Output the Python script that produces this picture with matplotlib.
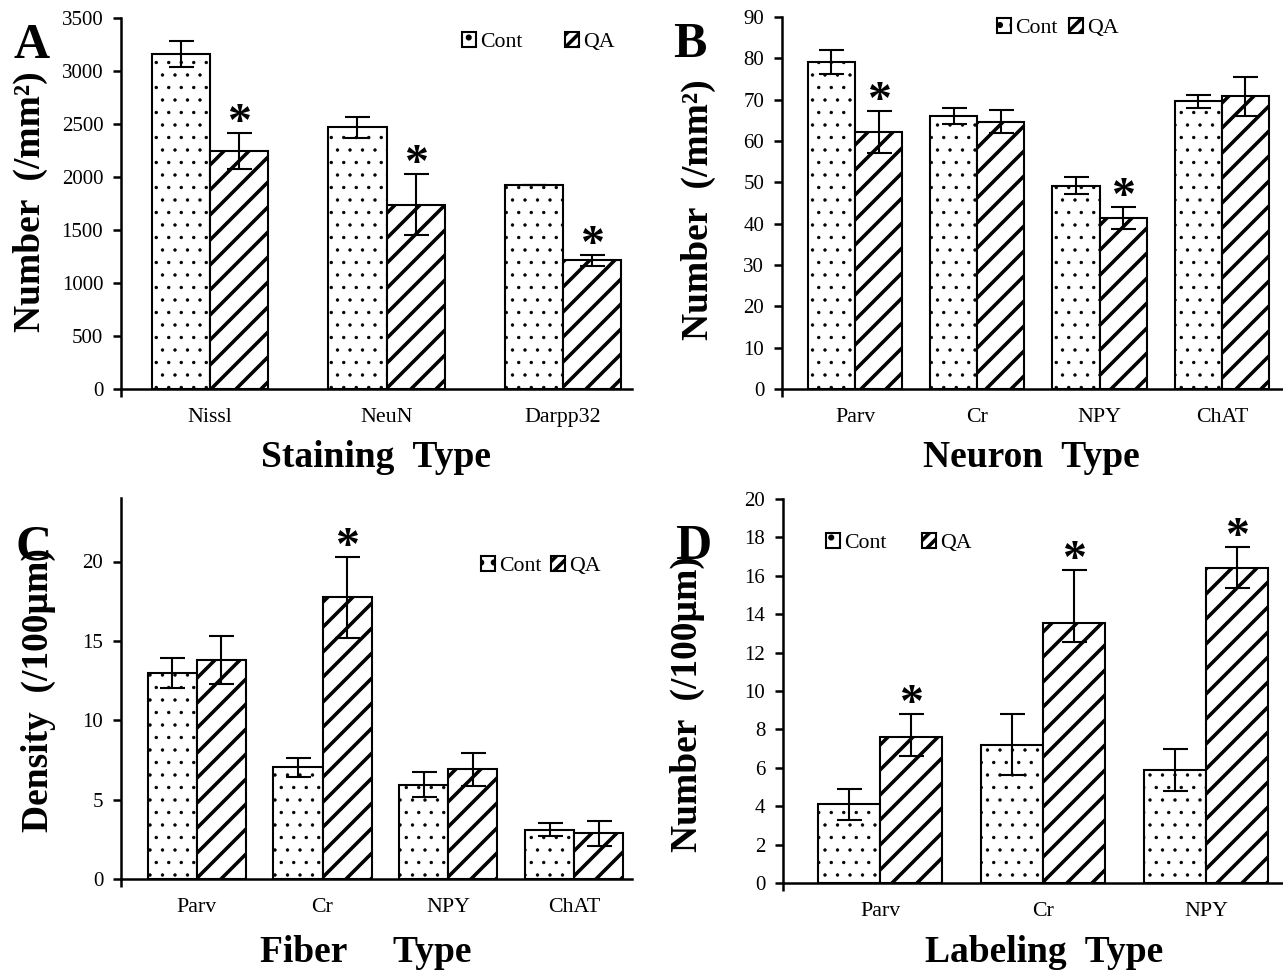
import matplotlib as mpl
import matplotlib.pyplot as plt
from matplotlib.patches import Patch
import numpy as np

DPI = 150
W, H = 1283, 973

# values
a_cats = ["Nissl", "NeuN", "Darpp32"]
a_cont = [3160, 2468, 1927]
a_cont_err = [125, 100, 0]
a_qa = [2248, 1739, 1213]
a_qa_err = [170, 290, 50]
a_sig = [True, True, True]

b_cats = ["Parv", "Cr", "NPY", "ChAT"]
b_cont = [79.1, 66.1, 49.2, 69.6]
b_cont_err = [2.8, 1.9, 2.0, 1.5]
b_qa = [62.2, 64.7, 41.4, 70.8]
b_qa_err = [5.0, 2.8, 2.7, 4.7]
b_sig = [True, False, True, False]

c_cats = ["Parv", "Cr", "NPY", "ChAT"]
c_cont = [13.0, 7.05, 5.95, 3.1]
c_cont_err = [0.95, 0.6, 0.8, 0.42]
c_qa = [13.8, 17.75, 6.9, 2.87]
c_qa_err = [1.5, 2.55, 1.05, 0.8]
c_sig = [False, True, False, False]

d_cats = ["Parv", "Cr", "NPY"]
d_cont = [4.1, 7.2, 5.9]
d_cont_err = [0.8, 1.6, 1.1]
d_qa = [7.6, 13.55, 16.4]
d_qa_err_lo = [1.0, 1.0, 1.05]
d_qa_err_hi = [1.2, 2.75, 1.1]
d_sig = [True, True, True]

mpl.rcParams['font.family'] = 'serif'
mpl.rcParams['font.serif'] = ['Liberation Serif', 'DejaVu Serif']
mpl.rcParams['hatch.linewidth'] = 1.7
mpl.rcParams['axes.linewidth'] = 1.2

DOT_LW = 0.4

fig = plt.figure(figsize=(W / DPI, H / DPI), dpi=DPI)


def px(x, y):
    return x / W, 1 - y / H


def set_hlw(patches, lw):
    for p in patches:
        if hasattr(p, 'set_hatch_linewidth'):
            p.set_hatch_linewidth(lw)


def panel(box, cats, cont, cont_err, qa, qa_err, sig, ylim, ystep, width, xlim,
          leg_xy, colsp):
    l, t, r, b = box
    ax = fig.add_axes([l / W, 1 - b / H, (r - l) / W, (b - t) / H])
    x = np.arange(len(cats))
    bc = ax.bar(x - width / 2, cont, width, color='white', edgecolor='black',
                hatch='..', lw=1.0, zorder=2)
    set_hlw(bc, DOT_LW)
    ax.bar(x + width / 2, qa, width, color='white', edgecolor='black',
           hatch='//', lw=1.0, zorder=2)
    ax.errorbar(x - width / 2, cont, yerr=cont_err, fmt='none', ecolor='black',
                elinewidth=1.0, capsize=6, capthick=1.0, zorder=3)
    ax.errorbar(x + width / 2, qa, yerr=qa_err, fmt='none', ecolor='black',
                elinewidth=1.0, capsize=6, capthick=1.0, zorder=3)

    hi = np.array(qa_err)
    if hi.ndim == 2:
        hi = hi[1]
    for i in range(len(cats)):
        if sig[i]:
            ax.annotate('*', (x[i] + width / 2, qa[i] + hi[i]), xytext=(0, -1.5),
                        textcoords='offset points', ha='center', va='baseline',
                        fontsize=23, fontweight='bold')

    ax.set_xlim(xlim)
    ax.set_ylim(0, ylim)
    ax.set_yticks(np.arange(0, ylim + 0.001, ystep))
    ax.set_xticks(x)
    ax.set_xticklabels(cats, fontsize=10.5)
    ax.set_xticks([xlim[0]], minor=True)
    ax.tick_params(axis='x', which='major', length=0, pad=9)
    ax.tick_params(axis='x', which='minor', length=4, width=1.2, direction='out')
    ax.tick_params(axis='y', length=4, width=1.2, direction='out', pad=4.5,
                   labelsize=10)
    ax.spines['top'].set_visible(False)
    ax.spines['right'].set_visible(False)

    handles = [Patch(facecolor='white', edgecolor='black', hatch='..', lw=1.0),
               Patch(facecolor='white', edgecolor='black', hatch='////', lw=1.0)]
    set_hlw(handles[:1], DOT_LW)
    ax.legend(handles, ['Cont', 'QA'], loc='center left',
              bbox_to_anchor=px(*leg_xy), bbox_transform=fig.transFigure,
              ncol=2, frameon=False, handlelength=0.65, handleheight=0.65,
              handletextpad=0.2, columnspacing=colsp, borderpad=0,
              borderaxespad=0, fontsize=10.5)
    return ax


panel((121, 18, 632, 389), a_cats, a_cont, a_cont_err, a_qa, a_qa_err, a_sig,
      3500, 500, 0.33, (-0.504, 2.39), (462, 42), 1.9)
panel((782, 17, 1283, 389), b_cats, b_cont, b_cont_err, b_qa, b_qa_err, b_sig,
      90, 10, 0.385, (-0.597, 3.5), (997, 28), 0.5)
panel((121, 498, 632, 879), c_cats, c_cont, c_cont_err, c_qa, c_qa_err, c_sig,
      24, 5, 0.39, (-0.602, 3.46), (481, 566), 0.4)
panel((783, 499, 1283, 883), d_cats, d_cont, d_cont_err, d_qa,
      [d_qa_err_lo, d_qa_err_hi], d_sig,
      20, 2, 0.38, (-0.595, 2.47), (826, 543), 1.6)

# axis titles
fig.text(*px(30, 202), 'Number  (/mm²)', rotation=90, ha='center', va='center',
         fontsize=18, fontweight='bold')
fig.text(*px(698, 210), 'Number  (/mm²)', rotation=90, ha='center', va='center',
         fontsize=18, fontweight='bold')
fig.text(*px(38, 690), 'Density  (/100µm)', rotation=90, ha='center', va='center',
         fontsize=18, fontweight='bold')
fig.text(*px(687, 704), 'Number  (/100µm)', rotation=90, ha='center', va='center',
         fontsize=18, fontweight='bold')

fig.text(*px(376, 467), 'Staining  Type', ha='center', va='baseline',
         fontsize=18, fontweight='bold')
fig.text(*px(1031, 467), 'Neuron  Type', ha='center', va='baseline',
         fontsize=18, fontweight='bold')
fig.text(*px(366, 962), 'Fiber     Type', ha='center', va='baseline',
         fontsize=18, fontweight='bold')
fig.text(*px(1044, 962), 'Labeling  Type', ha='center', va='baseline',
         fontsize=18, fontweight='bold')

# panel letters
for letter, xy in [('A', (14, 58)), ('B', (673, 57)), ('C', (15, 559)), ('D', (675, 559))]:
    fig.text(*px(*xy), letter, ha='left', va='baseline', fontsize=24,
             fontweight='bold', zorder=10)

fig.savefig('out.png', dpi=DPI)
